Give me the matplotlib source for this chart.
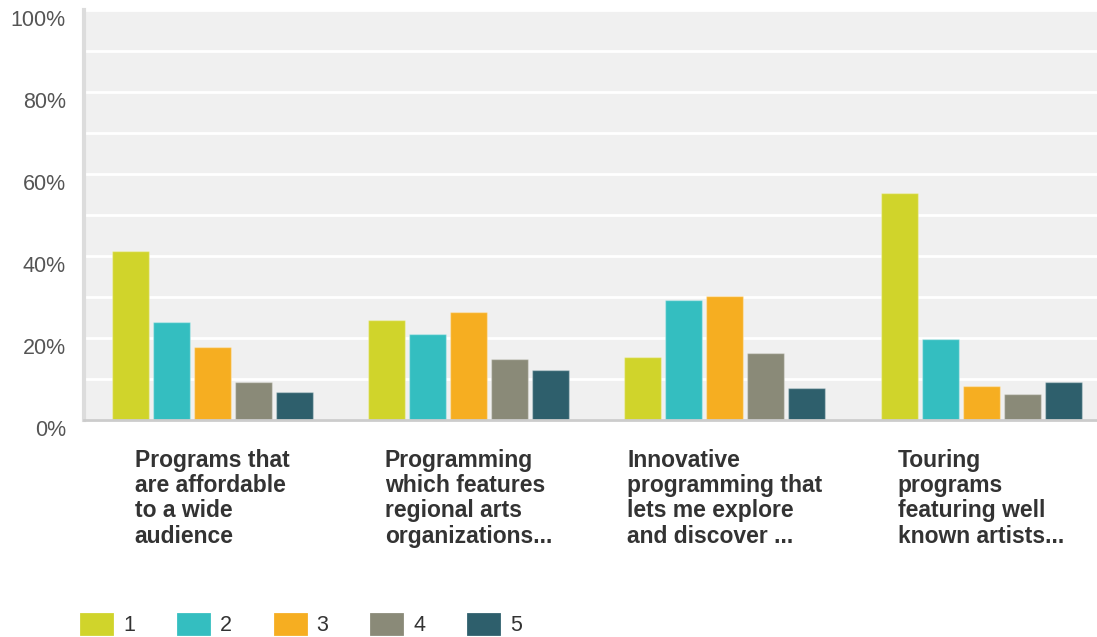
import numpy as np
import matplotlib.pyplot as plt
import matplotlib.patches as mpatches
from matplotlib.transforms import ScaledTranslation

plt.rcParams['font.family'] = ['Liberation Sans', 'DejaVu Sans']

categories = [
    "Programs that\nare affordable\nto a wide\naudience",
    "Programming\nwhich features\nregional arts\norganizations...",
    "Innovative\nprogramming that\nlets me explore\nand discover ...",
    "Touring\nprograms\nfeaturing well\nknown artists...",
]
series_names = ['1', '2', '3', '4', '5']
rating_1 = [41.3, 24.3, 15.3, 55.3]
rating_2 = [23.8, 20.9, 29.3, 19.8]
rating_3 = [17.9, 26.3, 30.3, 8.3]
rating_4 = [9.3, 14.8, 16.3, 6.3]
rating_5 = [6.8, 12.3, 7.9, 9.3]
colors = ['#d0d42b', '#34bec0', '#f6ae21', '#8a8a78', '#2e5f6c']

series = [rating_1, rating_2, rating_3, rating_4, rating_5]

fig = plt.figure(figsize=(10.97, 6.37), dpi=100)
ax = fig.add_axes([84 / 1097, 217 / 637, 1013 / 1097, 410 / 637])
ax.set_facecolor('#f0f0f0')

x = np.arange(len(categories))
step = 41 / 256.5
width = 37 / 256.5
for i, (vals, c) in enumerate(zip(series, colors)):
    ax.bar(x + (i - 2) * step, vals, width, color=c, edgecolor='#ffffff55',
           linewidth=1, zorder=3, label=series_names[i])

ax.set_ylim(0, 100)
ax.set_xlim(-0.5, (1097 - 211.5) / 256.5)
ax.set_yticks(np.arange(0, 101, 20))
ax.set_yticklabels([f'{v}%' for v in range(0, 101, 20)])
ax.set_yticks(np.arange(0, 101, 10), minor=True)
ax.grid(axis='y', which='both', color='white', linewidth=2, zorder=1)
ax.tick_params(axis='y', which='both', length=0, pad=13, labelsize=15.5, labelcolor='#555555')
off = ScaledTranslation(0, -8 / 100, fig.dpi_scale_trans)
for lab in ax.get_yticklabels():
    lab.set_transform(lab.get_transform() + off)

ax.set_xticks(x)
ax.set_xticklabels(categories, fontsize=16.5, fontweight='bold', color='#333333',
                   ha='center', multialignment='left', linespacing=1.12)
ax.tick_params(axis='x', length=0, pad=21)

for s in ['top', 'right']:
    ax.spines[s].set_visible(False)
ax.spines['left'].set_color('#dcdcdc')
ax.spines['left'].set_linewidth(3)
ax.spines['bottom'].set_color('#cccccc')
ax.spines['bottom'].set_linewidth(2)
ax.spines['bottom'].set_zorder(4)

handles = [mpatches.Patch(facecolor=c, edgecolor=c, linewidth=2, joinstyle='round')
           for c in colors]
fig.legend(handles, series_names, loc='lower left', bbox_to_anchor=(81 / 1097, 1 / 637),
           ncol=5, frameon=False, fontsize=15.5, handlelength=1.45, handleheight=1.05,
           handletextpad=0.5, columnspacing=1.99, borderpad=0, borderaxespad=0,
           labelcolor='#333333')

fig.savefig('out.png', dpi=100)
